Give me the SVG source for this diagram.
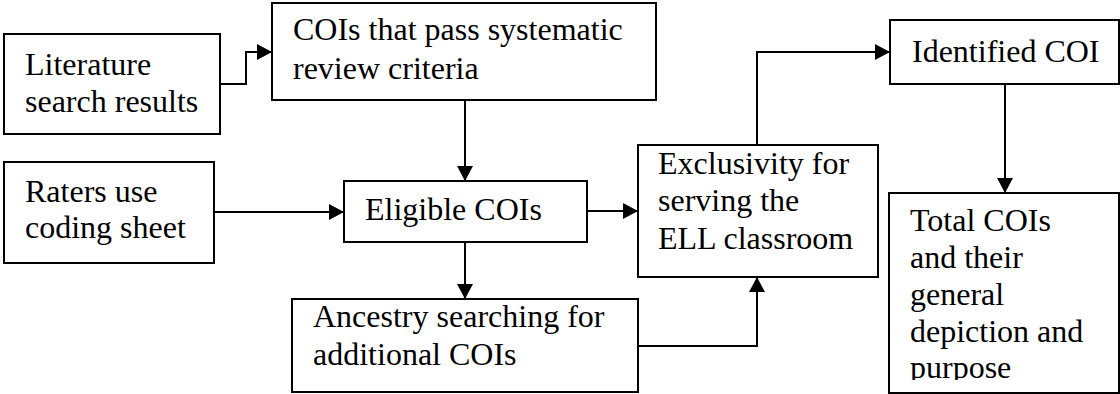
<svg xmlns="http://www.w3.org/2000/svg" width="1120" height="394" viewBox="0 0 1120 394">
<style>
.box{fill:#fff;stroke:#000;stroke-width:2}
.t{font-size:32px;fill:#000}
.c{fill:none;stroke:#000;stroke-width:2}
</style>
<defs>
<marker id="ah" markerUnits="userSpaceOnUse" markerWidth="16" markerHeight="16" refX="15" refY="8" orient="auto" viewBox="0 0 16 16">
<path d="M0,0 L15,8 L0,16 z" fill="#000"/>
</marker>
<clipPath id="clipTotal"><rect x="890" y="194" width="230" height="186"/></clipPath>
</defs>
<rect width="1120" height="394" fill="#fff"/>
<g id="connectors">
<path class="c" d="M220,84 H246 V52 H272" marker-end="url(#ah)"/>
<path class="c" d="M465,100 V181" marker-end="url(#ah)"/>
<path class="c" d="M214,212 H344" marker-end="url(#ah)"/>
<path class="c" d="M465,242 V299" marker-end="url(#ah)"/>
<path class="c" d="M587,211 H638" marker-end="url(#ah)"/>
<path class="c" d="M638,346 H757 V277" marker-end="url(#ah)"/>
<path class="c" d="M757,145 V52 H890" marker-end="url(#ah)"/>
<path class="c" d="M1005,84 V193" marker-end="url(#ah)"/>
</g>
<g font-family="'Liberation Serif', 'Times New Roman', Times, serif">
<g id="literature">
<rect class="box" x="4" y="34" width="216" height="100"/>
<text class="t" x="25" y="75">Literature</text>
<text class="t" x="25" y="112">search results</text>
</g>
<g id="pass-criteria">
<rect class="box" x="272" y="3" width="384" height="97"/>
<text class="t" x="293" y="40">COIs that pass systematic</text>
<text class="t" x="293" y="79">review criteria</text>
</g>
<g id="raters">
<rect class="box" x="4" y="162" width="210" height="101"/>
<text class="t" x="25" y="202">Raters use</text>
<text class="t" x="25" y="238">coding sheet</text>
</g>
<g id="eligible">
<rect class="box" x="344" y="181" width="243" height="61"/>
<text class="t" x="365" y="220">Eligible COIs</text>
</g>
<g id="ancestry">
<rect class="box" x="292" y="299" width="346" height="93"/>
<text class="t" x="313" y="327">Ancestry searching for</text>
<text class="t" x="313" y="365">additional COIs</text>
</g>
<g id="exclusivity">
<rect class="box" x="638" y="145" width="240" height="132"/>
<text class="t" x="658" y="174">Exclusivity for</text>
<text class="t" x="658" y="211">serving the</text>
<text class="t" x="658" y="249">ELL classroom</text>
</g>
<g id="identified">
<rect class="box" x="890" y="20" width="229" height="64"/>
<text class="t" x="912" y="62">Identified COI</text>
</g>
<g id="total">
<rect class="box" x="889" y="193" width="230" height="200"/>
<g clip-path="url(#clipTotal)">
<text class="t" x="910" y="231">Total COIs</text>
<text class="t" x="910" y="268">and their</text>
<text class="t" x="910" y="305">general</text>
<text class="t" x="910" y="342">depiction and</text>
<text class="t" x="910" y="378">purpose</text>
</g>
</g>
</g>
</svg>
